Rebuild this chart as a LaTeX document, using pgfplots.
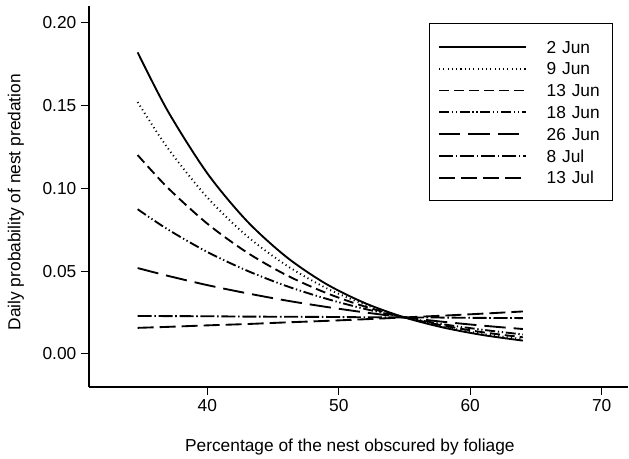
\documentclass[border=0pt]{standalone}
\usepackage{fontspec}
\setmainfont{Liberation Sans}
\usepackage{pgfplots}
\usepackage{pgfplotstable}
\pgfplotsset{compat=1.18}

% daily predation probability vs. foliage cover, one column per date
\pgfplotstableread{
x     j2     j9     j13    j18    j26    l8     l13
34.7  0.1820 0.1520 0.1200 0.0873 0.0518 0.0229 0.0157
37    0.1465 0.1241 0.1002 0.0751 0.0471 0.0228 0.0163
40    0.1090 0.0944 0.0786 0.0615 0.0415 0.0227 0.0172
43    0.0803 0.0712 0.0613 0.0503 0.0366 0.0225 0.0180
46    0.0586 0.0535 0.0476 0.0410 0.0322 0.0224 0.0190
49    0.0424 0.0399 0.0369 0.0334 0.0284 0.0223 0.0199
52    0.0306 0.0297 0.0285 0.0271 0.0250 0.0221 0.0209
55    0.0220 0.0220 0.0220 0.0220 0.0220 0.0220 0.0220
58    0.0158 0.0163 0.0170 0.0178 0.0193 0.0219 0.0231
61    0.0113 0.0120 0.0130 0.0145 0.0170 0.0217 0.0243
64    0.0080 0.0089 0.0100 0.0117 0.0150 0.0216 0.0256
}\predtab

\newcommand{\chartfont}{\fontsize{13}{15.6}\selectfont}

\begin{document}
\begin{tikzpicture}
\useasboundingbox (-66.75pt,-54pt) rectangle (405pt,290.25pt);
\begin{axis}[
    scale only axis,
    width=404.25pt, height=285.75pt,
    font=\chartfont,
    tick label style={font=\chartfont},
    label style={font=\chartfont},
    xmin=31, xmax=72,
    ymin=-0.02, ymax=0.21,
    axis x line=bottom, axis y line=left,
    axis line style={-, line width=0.8pt},
    tick align=outside,
    major tick length=6pt,
    tick style={line width=0.8pt, black},
    xtick={40,50,60,70},
    ytick={0,0.05,0.1,0.15,0.2},
    /pgf/number format/assume math mode=true,
    yticklabel style={/pgf/number format/.cd, fixed, fixed zerofill, precision=2},
    xlabel={Percentage of the nest obscured by foliage},
    ylabel={Daily probability of nest predation},
    xlabel style={at={(axis description cs:0.484,-0.157)}, anchor=center},
    ylabel style={at={(axis description cs:-0.1354,0.485)}, anchor=center},
    no markers,
    every axis plot/.append style={black, line width=1.4pt, smooth},
    legend image code/.code={\draw[#1] (0pt,0pt) -- (65pt,0pt);},
    legend cell align=left,
    legend style={
        at={(0.972,0.955)}, anchor=north east,
        draw=black, line width=0.75pt,
        font=\chartfont,
        inner xsep=6.75pt, inner ysep=11.6pt,
        column sep=15pt, row sep=4.65pt,
        nodes={inner sep=0pt, text height=10.5pt, text depth=1.2pt, text width=42.5pt},
    },
]
\addplot[solid] table[x=x, y=j2] {\predtab};
\addlegendentry{2 Jun}
\addplot[dash pattern=on 0.8pt off 2.4pt] table[x=x, y=j9] {\predtab};
\addlegendentry{9 Jun}
\addplot[dash pattern=on 7.5pt off 3.75pt] table[x=x, y=j13] {\predtab};
\addlegendentry{13 Jun}
\addplot[dash pattern=on 7.5pt off 2pt on 1pt off 2pt on 1pt off 2pt] table[x=x, y=j18] {\predtab};
\addlegendentry{18 Jun}
\addplot[dash pattern=on 16pt off 6pt] table[x=x, y=j26] {\predtab};
\addlegendentry{26 Jun}
\addplot[dash pattern=on 10.5pt off 2pt on 1.2pt off 2pt] table[x=x, y=l8] {\predtab};
\addlegendentry{8 Jul}
\addplot[dash pattern=on 12pt off 4.5pt] table[x=x, y=l13] {\predtab};
\addlegendentry{13 Jul}
\end{axis}
\end{tikzpicture}
\end{document}
